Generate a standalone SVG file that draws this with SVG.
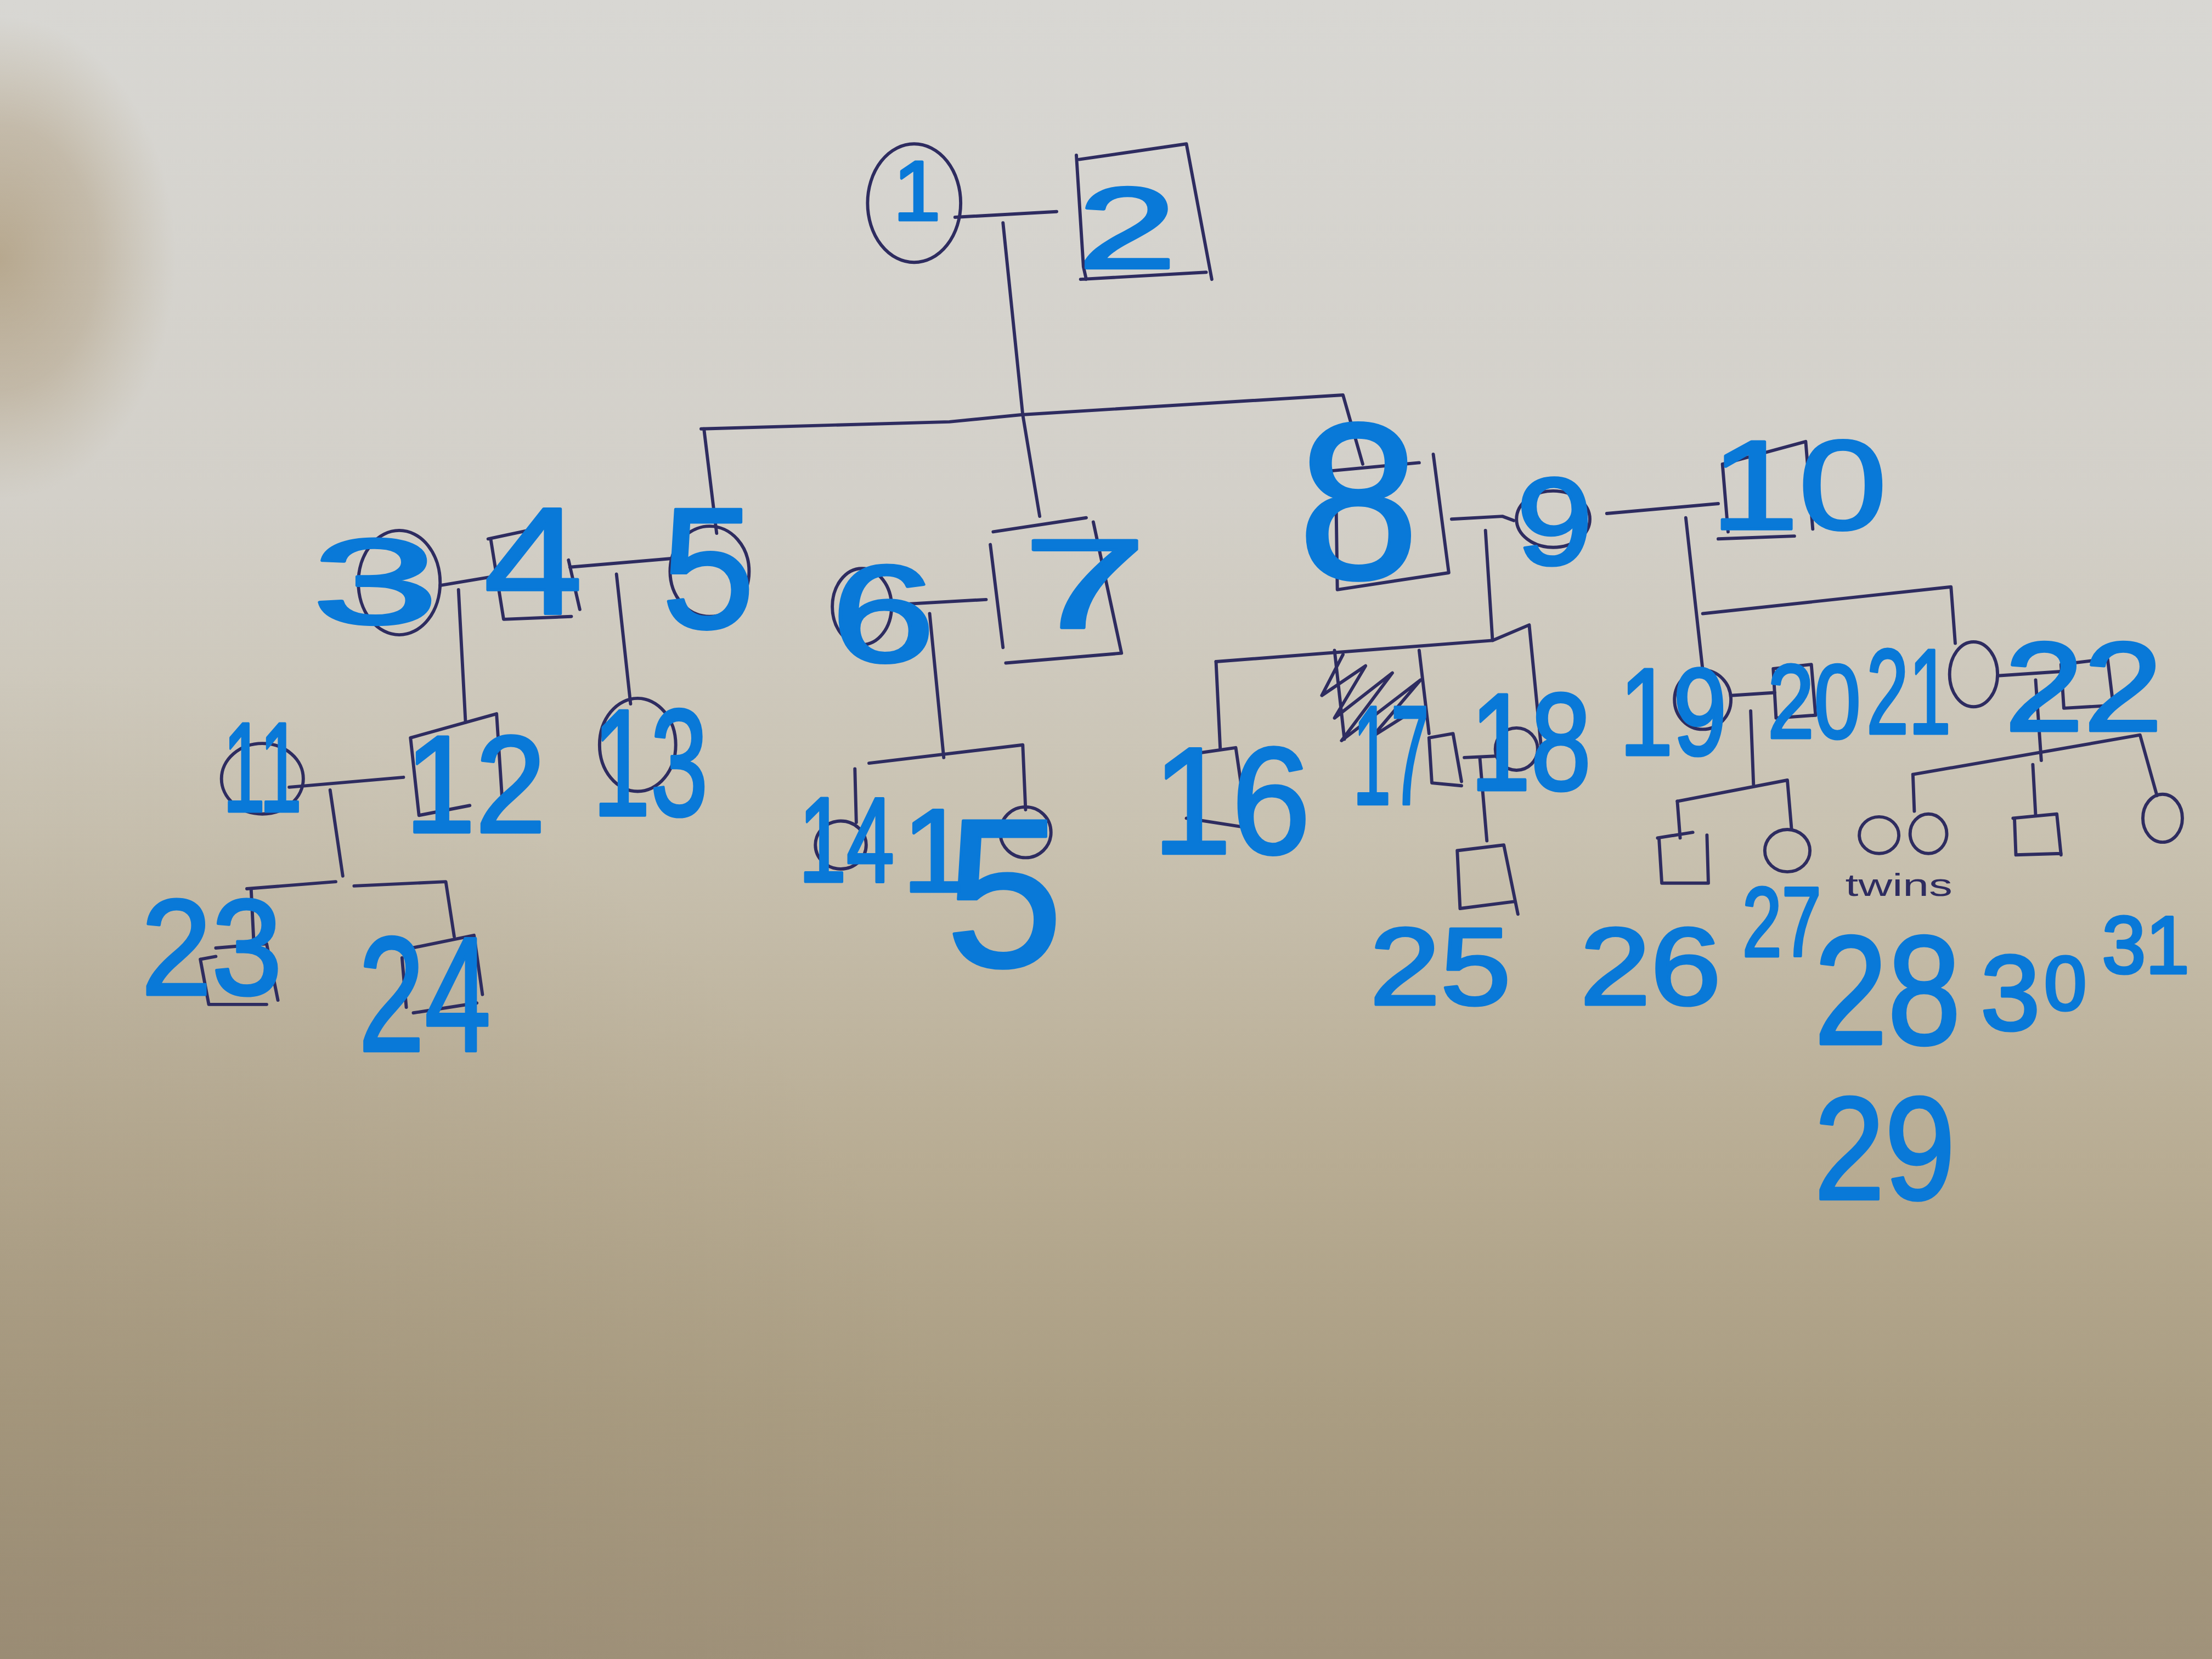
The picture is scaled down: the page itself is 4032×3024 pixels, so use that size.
<svg xmlns="http://www.w3.org/2000/svg" width="4032" height="3024" viewBox="0 0 4032 3024">
<defs>
<linearGradient id="paper" x1="0" y1="0" x2="0" y2="1">
<stop offset="0" stop-color="#d8d7d3"/>
<stop offset="0.3" stop-color="#d3d0c9"/>
<stop offset="0.5" stop-color="#c9c2b1"/>
<stop offset="0.7" stop-color="#b8ac93"/>
<stop offset="0.85" stop-color="#aa9d82"/>
<stop offset="1" stop-color="#a0927a"/>
</linearGradient>
<radialGradient id="stain">
<stop offset="0" stop-color="#ad9a7a" stop-opacity="0.75"/>
<stop offset="0.55" stop-color="#b1a084" stop-opacity="0.5"/>
<stop offset="1" stop-color="#b8aa8e" stop-opacity="0"/>
</radialGradient>
<radialGradient id="dark" cx="0" cy="3024" r="1800" gradientUnits="userSpaceOnUse">
<stop offset="0" stop-color="#8f8069" stop-opacity="0.35"/>
<stop offset="1" stop-color="#8f8069" stop-opacity="0"/>
</radialGradient>
<style>
.pen{fill:none;stroke:#2e2c60;stroke-width:2.3;stroke-linecap:round;stroke-linejoin:round}
.lbl{font-family:"Liberation Sans",Arial,sans-serif;fill:#0979d8;stroke:#0979d8;stroke-width:2;stroke-linejoin:round;text-anchor:middle}
.note{font-family:"Liberation Sans",Arial,sans-serif;fill:#2e2c60;font-size:22px}
</style>
</defs>
<rect width="4032" height="3024" fill="url(#paper)"/>
<ellipse cx="0" cy="470" rx="320" ry="440" fill="url(#stain)"/>
<rect width="4032" height="3024" fill="url(#dark)"/>
<g transform="scale(2.5714)">
<g id="connectors" class="pen">
<path d="M677,154 L749,150"/>
<path d="M711,158 L725,294 L737,366"/>
<path d="M497,304 L673,299 L724,294 L952,280 L966,329"/>
<path d="M499,304 L508,378"/>
<path d="M312,415 L348,409"/>
<path d="M404,402 L475,396"/>
<path d="M325,418 L330,512"/>
<path d="M437,407 L447,499"/>
<path d="M628,429 L699,425"/>
<path d="M659,435 L669,537"/>
<path d="M616,541 L725,528 L727,574"/>
<path d="M606,545 L607,583"/>
<path d="M205,558 L286,551"/>
<path d="M234,560 L243,621"/>
<path d="M175,630 L238,625"/>
<path d="M251,628 L316,625 L322,664"/>
<path d="M178,630 L180,670"/>
<path d="M1029,368 L1065,366 L1073,369"/>
<path d="M1053,376 L1058,454"/>
<path d="M862,469 L1058,454 L1084,443 L1094,545"/>
<path d="M862,469 L865,531"/>
<path d="M1006,461 L1013,520"/>
<path d="M1038,537 L1060,536"/>
<path d="M1049,537 L1054,596"/>
<path d="M1139,364 L1218,357"/>
<path d="M1195,367 L1207,475"/>
<path d="M1207,435 L1383,416 L1386,456"/>
<path d="M1227,493 L1258,491"/>
<path d="M1241,504 L1243,556"/>
<path d="M1189,568 L1267,553 L1270,588"/>
<path d="M1189,568 L1191,594"/>
<path d="M1416,479 L1461,476"/>
<path d="M1443,482 L1447,539"/>
<path d="M1356,549 L1517,521 L1529,564"/>
<path d="M1356,549 L1357,575"/>
<path d="M1441,542 L1443,578"/>
</g>
<g id="n1"><ellipse class="pen" cx="648" cy="144" rx="33" ry="42"/><text class="lbl" x="650" y="156" font-size="60">1</text></g>
<g id="n2"><path class="pen" d="M765,113 L841,102 L859,198 M766,198 L855,193 M763,110 L768,189 L770,198"/><text class="lbl" x="799" y="190" font-size="82" textLength="70" lengthAdjust="spacingAndGlyphs">2</text></g>
<g id="n3"><ellipse class="pen" cx="283" cy="413" rx="29" ry="37"/><text class="lbl" x="266" y="442" font-size="86" textLength="90" lengthAdjust="spacingAndGlyphs">3</text></g>
<g id="n4"><path class="pen" d="M346,382 L393,372 M348,383 L357,439 L405,437 M403,397 L411,432"/><text class="lbl" x="378" y="435" font-size="108" textLength="70" lengthAdjust="spacingAndGlyphs">4</text></g>
<g id="n5"><ellipse class="pen" cx="503" cy="405" rx="28" ry="32"/><text class="lbl" x="502" y="445" font-size="122" textLength="66" lengthAdjust="spacingAndGlyphs">5</text></g>
<g id="n6"><ellipse class="pen" cx="611" cy="430" rx="21" ry="27"/><text class="lbl" x="626" y="469" font-size="98" textLength="74" lengthAdjust="spacingAndGlyphs">6</text></g>
<g id="n7"><path class="pen" d="M704,377 L770,367 M775,370 L795,463 L713,470 M702,386 L711,459"/><text class="lbl" x="769" y="445" font-size="90" textLength="88" lengthAdjust="spacingAndGlyphs">7</text></g>
<g id="n8"><path class="pen" d="M941,334 L1006,328 M1016,322 L1027,406 L948,418 L947,346"/><text class="lbl" x="963" y="410" font-size="158" textLength="86" lengthAdjust="spacingAndGlyphs">8</text></g>
<g id="n9"><ellipse class="pen" cx="1101" cy="368" rx="26" ry="20"/><text class="lbl" x="1102" y="400" font-size="88" textLength="54" lengthAdjust="spacingAndGlyphs">9</text></g>
<g id="n10"><path class="pen" d="M1221,329 L1280,313 L1285,375 M1221,329 L1225,377 M1218,382 L1272,380"/><text class="lbl" x="1275" y="375" font-size="90" textLength="125" lengthAdjust="spacingAndGlyphs">10</text></g>
<g id="n11"><ellipse class="pen" cx="186" cy="552" rx="29" ry="25"/><text class="lbl" x="186" y="575" font-size="90" textLength="56" lengthAdjust="spacingAndGlyphs">11</text></g>
<g id="n12"><path class="pen" d="M291,523 L352,506 L356,567 M291,523 L297,578 L333,571"/><text class="lbl" x="337" y="590" font-size="98" textLength="100" lengthAdjust="spacingAndGlyphs">12</text></g>
<g id="n13"><ellipse class="pen" cx="452" cy="528" rx="27" ry="33"/><text class="lbl" x="461" y="578" font-size="108" textLength="82" lengthAdjust="spacingAndGlyphs">13</text></g>
<g id="n14"><ellipse class="pen" cx="596" cy="599" rx="18" ry="17"/><text class="lbl" x="600" y="625" font-size="86" textLength="68" lengthAdjust="spacingAndGlyphs">14</text></g>
<g id="n15"><ellipse class="pen" cx="727" cy="590" rx="18" ry="18"/><text class="lbl" font-size="150"><tspan x="663" y="632" font-size="84">1</tspan><tspan x="712" y="685">5</tspan></text></g>
<g id="n16"><path class="pen" d="M841,535 L876,530 L884,585 M843,535 L846,574 M841,580 L886,587"/><text class="lbl" x="873" y="605" font-size="108" textLength="112" lengthAdjust="spacingAndGlyphs">16</text></g>
<g id="n17"><path class="pen" d="M946,461 L953,524 M952,464 L937,493 L968,472 L946,509 L987,477 L951,525 L1007,482 L973,522 L1003,503"/><path class="pen" d="M1013,523 L1030,520 L1036,554 M1013,523 L1015,555 L1036,557"/><text class="lbl" x="986" y="570" font-size="100" textLength="54" lengthAdjust="spacingAndGlyphs">17</text></g>
<g id="n18"><ellipse class="pen" cx="1075" cy="531" rx="15" ry="15"/><text class="lbl" x="1085" y="560" font-size="98" textLength="86" lengthAdjust="spacingAndGlyphs">18</text></g>
<g id="n19"><ellipse class="pen" cx="1207" cy="496" rx="20" ry="21"/><text class="lbl" x="1186" y="535" font-size="88" textLength="76" lengthAdjust="spacingAndGlyphs">19</text></g>
<g id="n20"><path class="pen" d="M1257,474 L1284,471 L1287,507 L1259,509 Z"/><text class="lbl" x="1286" y="523" font-size="74" textLength="66" lengthAdjust="spacingAndGlyphs">20</text></g>
<g id="n21"><ellipse class="pen" cx="1399" cy="478" rx="17" ry="23"/><text class="lbl" x="1353" y="520" font-size="86" textLength="60" lengthAdjust="spacingAndGlyphs">21</text></g>
<g id="n22"><path class="pen" d="M1461,471 L1494,467 L1498,500 L1463,502 Z"/><text class="lbl" x="1477" y="518" font-size="90" textLength="112" lengthAdjust="spacingAndGlyphs">22</text></g>
<g id="n23"><path class="pen" d="M153,672 L189,669 L197,709 M142,680 L153,678 M142,680 L148,712 L189,712"/><text class="lbl" x="150" y="705" font-size="97" textLength="100" lengthAdjust="spacingAndGlyphs">23</text></g>
<g id="n24"><path class="pen" d="M292,672 L336,663 L342,705 M285,679 L288,714 M293,718 L338,711"/><text class="lbl" x="301" y="745" font-size="116" textLength="94" lengthAdjust="spacingAndGlyphs">24</text></g>
<g id="n25"><path class="pen" d="M1033,603 L1066,599 L1076,648 M1033,603 L1035,644 L1074,639"/><text class="lbl" x="1021" y="712" font-size="78" textLength="100" lengthAdjust="spacingAndGlyphs">25</text></g>
<g id="n26"><path class="pen" d="M1175,594 L1200,590 M1176,594 L1178,626 L1211,626 L1210,592"/><text class="lbl" x="1170" y="712" font-size="78" textLength="100" lengthAdjust="spacingAndGlyphs">26</text></g>
<g id="n27"><ellipse class="pen" cx="1267" cy="603" rx="16" ry="15"/><text class="lbl" x="1263" y="678" font-size="70" textLength="56" lengthAdjust="spacingAndGlyphs">27</text></g>
<g id="n28"><ellipse class="pen" cx="1332" cy="592" rx="14" ry="13"/><text class="lbl" x="1338" y="740" font-size="110" textLength="104" lengthAdjust="spacingAndGlyphs">28</text></g>
<g id="n29"><ellipse class="pen" cx="1367" cy="591" rx="13" ry="14"/><text class="lbl" x="1336" y="850" font-size="104" textLength="100" lengthAdjust="spacingAndGlyphs">29</text></g>
<text class="note" x="1346" y="635" text-anchor="middle" textLength="76" lengthAdjust="spacingAndGlyphs">twins</text>
<g id="n30"><path class="pen" d="M1427,580 L1458,577 L1461,606 M1428,580 L1429,606 L1461,605"/><text class="lbl" font-size="76"><tspan x="1425" y="730">3</tspan><tspan x="1464" y="716" font-size="54">0</tspan></text></g>
<g id="n31"><ellipse class="pen" cx="1533" cy="580" rx="14" ry="17"/><text class="lbl" x="1521" y="690" font-size="58" textLength="62" lengthAdjust="spacingAndGlyphs">31</text></g>
</g>
</svg>
